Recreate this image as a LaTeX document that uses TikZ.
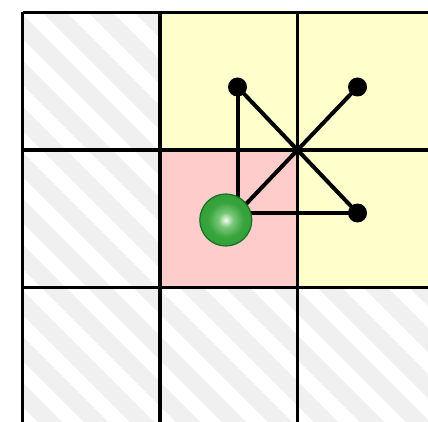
\documentclass[tikz,border=0pt]{standalone}
\definecolor{cellyellow}{RGB}{255,255,204}
\definecolor{cellpink}{RGB}{255,204,204}
\definecolor{stripegray}{RGB}{240,240,240}
\definecolor{ballouter}{RGB}{50,160,55}
\definecolor{ballmid}{RGB}{120,200,120}
\definecolor{ballinner}{RGB}{245,253,245}
\definecolor{ballborder}{RGB}{25,110,40}
\pgfdeclareradialshading{greenball}{\pgfpoint{0bp}{0bp}}{%
  color(0bp)=(ballinner); color(7bp)=(ballmid); color(17bp)=(ballouter!90!ballmid); color(25bp)=(ballouter); color(50bp)=(ballouter)}
\tikzset{
  gridline/.style={line width=3.2pt, black},
  link/.style={line width=4pt, black},
  dotpt/.style={circle, fill=black, inner sep=0pt, minimum size=19pt},
  ballnode/.style={circle, draw=ballborder, line width=1.2pt, minimum size=52pt, inner sep=0pt,
    shading=greenball},
}
\begin{document}
\begin{tikzpicture}[x=1pt,y=-1pt]
\useasboundingbox (0,0) rectangle (428,422);
\begin{scope}
\clip (0,0) rectangle (428,422);
% coloured cells
\fill[cellyellow] (160,12.5) rectangle (435,287.5);
\fill[cellpink] (160,150) rectangle (297.5,287.5);
% hatched cells
\begin{scope}
\clip (22.5,12.5) -- (160,12.5) -- (160,287.5) -- (435,287.5) -- (435,425) -- (22.5,425) -- cycle;
\fill[white] (22.5,12.5) rectangle (435,425);
\foreach \k in {-11,...,10} {
  \draw[line width=17pt, stripegray] ({32+46*\k},-10) -- ({32+46*\k+460},450);
}
\end{scope}
% grid
\foreach \x in {22.5,160,297.5,435} \draw[gridline] (\x,12.5) -- (\x,430);
\foreach \y in {12.5,150,287.5,425} \draw[gridline] (22.5,\y) -- (440,\y);
\end{scope}
% points
\node[dotpt] (pA) at (237.5,87) {};
\node[dotpt] (pB) at (357.5,87) {};
\node[dotpt] (pC) at (357.5,213) {};
\coordinate (pO) at (237.5,213);
\draw[link] (pA.center) -- (pO);
\draw[link] (pO) -- (pC.center);
\draw[link] (pA.center) -- (pC.center);
\draw[link] (pO) -- (pB.center);
\node[ballnode] (ball) at (225.8,220) {};
\end{tikzpicture}
\end{document}
